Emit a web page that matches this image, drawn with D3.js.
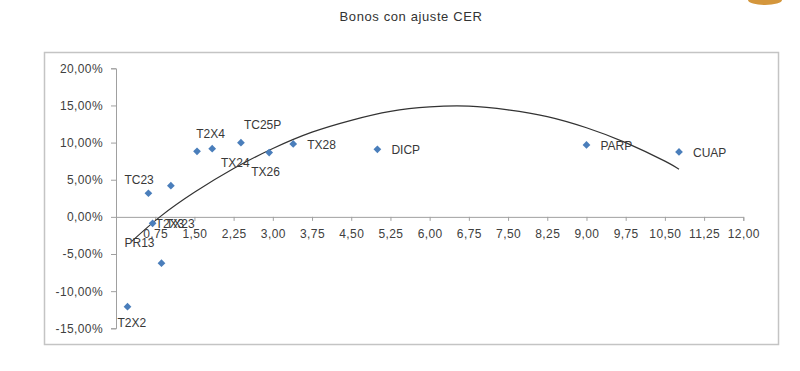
<!DOCTYPE html>
<html>
<head>
<meta charset="utf-8">
<script src="https://cdn.jsdelivr.net/npm/d3@7"></script>
<style>
  body { margin: 0; background: #fff; }
  svg { display: block; font-family: "Liberation Sans", Arial, sans-serif; }
</style>
</head>
<body>
<svg id="chart"></svg>
<script>
// Bonos con ajuste CER: duration (x) vs yield (%)
const bonds = ["T2X2", "TC23", "T2X3", "PR13", "TX23", "TX24", "T2X4", "TC25P", "TX26", "TX28", "DICP", "PARP", "CUAP"];
const duration = [0.22, 0.62, 0.70, 0.87, 1.05, 1.55, 1.84, 2.39, 2.93, 3.39, 5.00, 9.00, 10.77];
const yields = [-12.09, 3.18, -0.86, -6.24, 4.20, 8.83, 9.18, 9.99, 8.65, 9.81, 9.10, 9.68, 8.74];

// polynomial trend line
const trendX = [0.30, 0.84, 1.5, 2.25, 3.0, 3.75, 4.5, 5.25, 6.0, 6.75, 7.5, 8.25, 9.0, 9.75, 10.5, 10.77];
const trendY = [-3.3, 0.0, 3.3, 6.5, 9.2, 11.4, 13.0, 14.2, 14.8, 14.9, 14.4, 13.5, 12.0, 10.0, 7.5, 6.4];

const xTicks = d3.range(0, 12.01, 0.75);
const yTicks = [20, 15, 10, 5, 0, -5, -10, -15];

// label placement relative to each marker (Excel labels were moved by hand)
const labelOffset = [
    [-10, 16], [-24, -13], [3, 1], [-37, -20], [-5, 38], [24, 12], [-16, -15],
    [3, -18], [-18, 19], [14, 1], [14, 1], [14, 1], [14, 1]
];

const width = 800, height = 371;
const svg = d3.select("#chart").attr("width", width).attr("height", height);

// outer chart border
svg.append("rect")
   .attr("x", 44.5).attr("y", 52.5)
   .attr("width", 734).attr("height", 292)
   .attr("fill", "#fff")
   .attr("stroke", "#c4c4c4")
   .attr("stroke-width", 1.5);

// bit of the orange logo peeking in at the top
svg.append("ellipse")
   .attr("cx", 765).attr("cy", 0)
   .attr("rx", 17).attr("ry", 5)
   .attr("fill", "#d4963c");

svg.append("text")
   .attr("x", 411).attr("y", 21)
   .attr("text-anchor", "middle")
   .style("font-size", "13px")
   .style("letter-spacing", "0.6px")
   .style("fill", "#333")
   .text("Bonos con ajuste CER");

const x = d3.scaleLinear().domain([0, 12]).range([116, 743.3]);
const y = d3.scaleLinear().domain([-15, 20]).range([328.3, 68.3]);

const fmtX = d => d3.format(".2f")(d).replace(".", ",");
const fmtY = d => d3.format(".2f")(d).replace(".", ",").replace("\u2212", "-") + "%";

// y axis
const yAxis = svg.append("g")
    .attr("transform", `translate(${x(0)},0)`)
    .call(d3.axisLeft(y).tickValues(yTicks).tickSize(5).tickPadding(8).tickFormat(fmtY));

// x axis, crossing at 0%
const xAxis = svg.append("g")
    .attr("transform", `translate(0,${y(0)})`)
    .call(d3.axisBottom(x).tickValues(xTicks).tickSize(4).tickPadding(9)
          .tickFormat(d => d === 0 ? "" : fmtX(d)));

[yAxis, xAxis].forEach(a => {
    a.select(".domain").attr("stroke", "#a0a0a0");
    a.selectAll(".tick line").attr("stroke", "#a0a0a0");
    a.selectAll("text")
     .style("font-size", "12px")
     .style("letter-spacing", "0.4px")
     .attr("fill", "#404040");
});

// trend line
const line = d3.line()
    .x((d, i) => x(trendX[i]))
    .y(d => y(d))
    .curve(d3.curveNatural);

svg.append("path")
   .datum(trendY)
   .attr("d", line)
   .attr("fill", "none")
   .attr("stroke", "#333")
   .attr("stroke-width", 1.2);

// markers
const diamond = d3.symbol().type(d3.symbolSquare).size(30);
svg.append("g")
   .selectAll("path")
   .data(bonds)
   .join("path")
   .attr("d", diamond)
   .attr("transform", (d, i) => `translate(${x(duration[i])},${y(yields[i])}) rotate(45)`)
   .attr("fill", "#4a7ebb");

// data labels
svg.append("g")
   .selectAll("text")
   .data(bonds)
   .join("text")
   .attr("x", (d, i) => x(duration[i]) + labelOffset[i][0])
   .attr("y", (d, i) => y(yields[i]) + labelOffset[i][1])
   .attr("dy", "0.35em")
   .style("font-size", "12px")
   .attr("fill", "#383838")
   .text(d => d);
</script>
</body>
</html>
